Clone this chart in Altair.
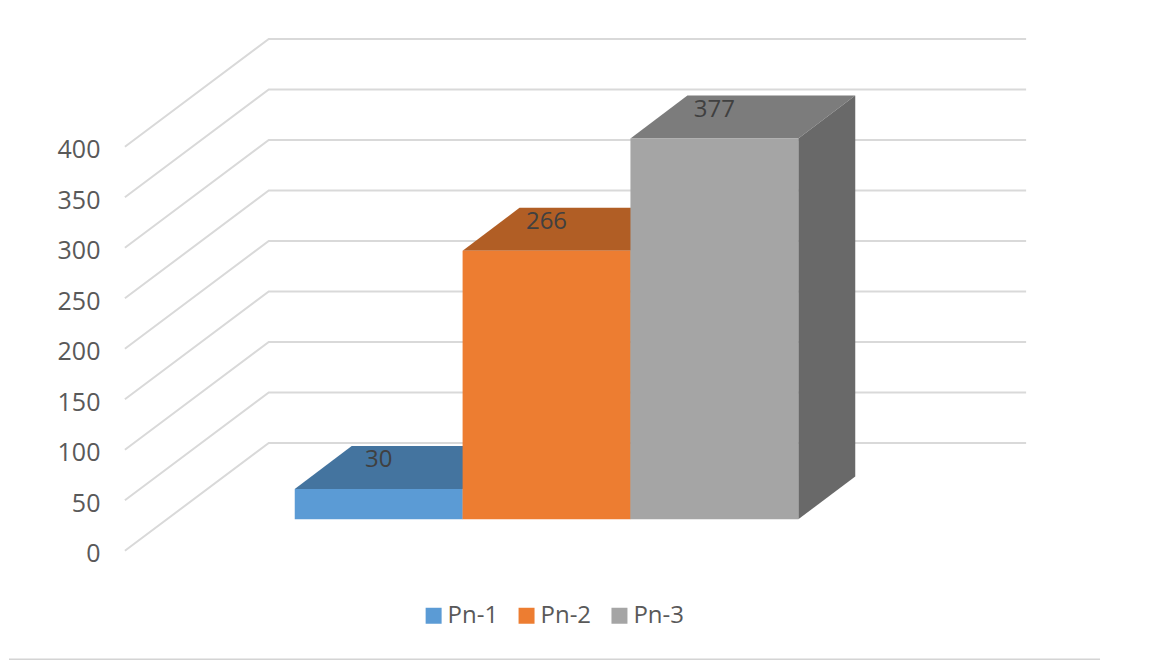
import altair as alt
import pandas as pd

categories = ["Pn-1", "Pn-2", "Pn-3"]
values = [30, 266, 377]
front_colors = ["#5B9BD5", "#ED7D31", "#A5A5A5"]
top_colors = ["#44749F", "#B15E25", "#7C7C7C"]
side_colors = ["#376087", "#9A5220", "#696969"]
tick_values = [0, 50, 100, 150, 200, 250, 300, 350, 400]

# Pixel size of one scale unit (the page has an 8px margin)
W, H = 1136, 652
UNIT_X = 168.0
UNIT_Y = 1.0109
ORIGIN_X, ORIGIN_Y = 124 - 8, 551 - 8
FONT = "Open Sans"
TXT = "#595959"

x_scale = alt.Scale(domain=[-ORIGIN_X / UNIT_X, (W - ORIGIN_X) / UNIT_X], nice=False, zero=False)
y_scale = alt.Scale(domain=[(ORIGIN_Y - H) / UNIT_Y, ORIGIN_Y / UNIT_Y], nice=False, zero=False)

# Oblique projection offsets, in scale units
WALL_DX = 144 / UNIT_X
WALL_DY = 108 / UNIT_Y
WALL_END = (1027 - 125) / UNIT_X
BAR_X0 = (295 - 125) / UNIT_X
BAR_BASE = 31.5 / UNIT_Y
BAR_DX = 57 / UNIT_X
BAR_DY = 43 / UNIT_Y
LABEL_UP = 29 / UNIT_Y

y_axis = alt.Axis(
    values=tick_values, grid=False, domain=False, ticks=False, offset=-ORIGIN_X,
    labelPadding=25, labelFont=FONT, labelFontSize=25, labelColor=TXT, format="d", labelOffset=3,
)
X = alt.X("x:Q", scale=x_scale, axis=None)
Y = alt.Y("y:Q", scale=y_scale, title=None, axis=y_axis)

grid_rows = []
for v in tick_values:
    for i, (gx, gy) in enumerate([(0, v), (WALL_DX, v + WALL_DY), (WALL_END, v + WALL_DY)]):
        grid_rows.append({"tick": v, "i": i, "x": gx, "y": gy})

grid = alt.Chart(pd.DataFrame(grid_rows)).mark_line(color="#D9D9D9", strokeWidth=2).encode(
    x=X, y=Y, detail="tick:N", order="i:Q",
)

bottom = alt.Chart(pd.DataFrame({
    "x": [-ORIGIN_X / UNIT_X], "x2": [(1100 - 124) / UNIT_X], "y": [(551 - 659.5) / UNIT_Y],
})).mark_rule(color="#D4D4D4", strokeWidth=1.5).encode(x=X, x2="x2:Q", y=Y)

layers = [grid, bottom]
for i, (cat, val) in enumerate(zip(categories, values)):
    x0 = BAR_X0 + i
    x1 = x0 + 1
    top_v = BAR_BASE + val
    top = alt.Chart(pd.DataFrame({
        "x": [x0, x0 + BAR_DX], "x2": [x1, x1 + BAR_DX], "y": [top_v, top_v + BAR_DY],
    })).mark_area(orient="horizontal", color=top_colors[i]).encode(x=X, x2="x2:Q", y=Y)
    side = alt.Chart(pd.DataFrame({
        "x": [x1, x1 + BAR_DX], "y": [top_v, top_v + BAR_DY], "y2": [BAR_BASE, BAR_BASE + BAR_DY],
    })).mark_area(orient="vertical", color=side_colors[i]).encode(x=X, y=Y, y2="y2:Q")
    front = alt.Chart(pd.DataFrame({
        "x": [x0], "x2": [x1], "y": [top_v], "y2": [BAR_BASE], "series": [cat],
    })).mark_rect().encode(
        x=X, x2="x2:Q", y=Y, y2="y2:Q",
        color=alt.Color(
            "series:N",
            scale=alt.Scale(domain=categories, range=front_colors),
            legend=alt.Legend(
                orient="none", legendX=413, legendY=596, direction="horizontal", title=None,
                symbolType="square", symbolSize=256, symbolStrokeWidth=0, symbolOpacity=1,
                labelFont=FONT, labelFontSize=24, labelColor=TXT, columnPadding=16,
                labelOffset=2, padding=0, rowPadding=0,
            ),
        ),
    )
    layers += [top, side, front]

labels = alt.Chart(pd.DataFrame({
    "x": [BAR_X0 + i + 0.5 for i in range(len(values))],
    "y": [BAR_BASE + v + LABEL_UP for v in values],
    "text": [str(v) for v in values],
})).mark_text(font=FONT, fontSize=24, color="#404040", baseline="middle", align="center").encode(
    x=X, y=Y, text="text:N"
)
layers.append(labels)

chart = alt.layer(*layers).resolve_scale(x="shared", y="shared").properties(
    width=W, height=H, padding=0, background="white"
).configure_view(stroke=None)

chart.save("out.html", embed_options={"renderer": "svg", "actions": False})
